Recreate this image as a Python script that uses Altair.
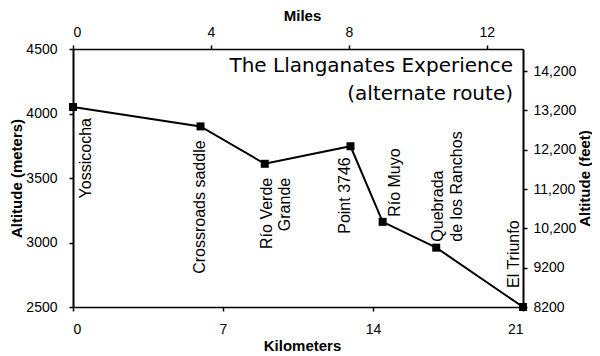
import altair as alt
import pandas as pd

# ---- data ----
km = [0, 5.95, 8.95, 12.95, 14.45, 16.95, 21]
altitude_m = [4050, 3900, 3610, 3746, 3160, 2960, 2500]
places = ["Yossicocha", "Crossroads saddle", "Río Verde\nGrande", "Point 3746",
          "Río Muyo", "Quebrada\nde los Ranchos", "El Triunfo"]
km_ticks = [0, 7, 14, 21]
mile_ticks = [0, 4, 8, 12]
m_ticks = [2500, 3000, 3500, 4000, 4500]
ft_ticks = [8200, 9200, 10200, 11200, 12200, 13200, 14200]
title_lines = ["The Llanganates Experience", "(alternate route)"]

KM_PER_MILE = 1.609344
FT_PER_M = 3.28084

df = pd.DataFrame({"km": km, "m": altitude_m, "place": places})

W, H = 450, 258
FONT = "Liberation Sans"

# label placement (align, dx, dy) in rotated text frame
label_style = {
    "Yossicocha": ("right", -11, 5),
    "Crossroads saddle": ("right", -14, -9),
    "Río Verde\nGrande": ("right", -14, -6),
    "Point 3746": ("right", -11, -14),
    "Río Muyo": ("left", 5, 4),
    "Quebrada\nde los Ranchos": ("left", 6, -6),
    "El Triunfo": ("left", 19, -17),
}

axis_style = dict(grid=False, domainColor="black", tickColor="black", tickSize=4,
                  tickWidth=1.5, labelFont=FONT, labelFontSize=14, labelColor="black",
                  titleFont=FONT, titleFontSize=15, titleFontWeight="bold",
                  titleColor="black")

x_km = alt.X("km:Q", scale=alt.Scale(domain=[0, 21], nice=False, zero=False),
             axis=alt.Axis(orient="bottom", values=km_ticks, title="Kilometers",
                           labelPadding=11, domainWidth=1.5, titleX=229, titleY=43,
                           titleBaseline="alphabetic", titleAlign="center", **axis_style))
y_m = alt.Y("m:Q", scale=alt.Scale(domain=[2500, 4500], nice=False, zero=False),
            axis=alt.Axis(orient="left", values=m_ticks, format="d",
                          title="Altitude (meters)", labelPadding=12, domainWidth=2,
                          titleX=-57, titleY=H / 2, titleAngle=270,
                          titleBaseline="middle", titleAlign="center", **axis_style))

base = alt.Chart(df).encode(x=x_km, y=y_m)
line = base.mark_line(color="black", strokeWidth=2)
pts = base.mark_point(shape="square", filled=True, size=64, color="black", opacity=1)

labels = []
for p in places:
    a, dx, dy = label_style[p]
    labels.append(
        base.transform_filter(alt.datum.place == p)
        .mark_text(angle=270, align=a, baseline="top", dx=dx, dy=dy, font=FONT,
                   fontSize=16, lineHeight=18.5, lineBreak="\n", color="black")
        .encode(text="place:N")
    )

title = alt.Chart(pd.DataFrame({"t": [0]})).mark_text(
    align="right", baseline="top", font="DejaVu Sans", fontSize=20, lineHeight=28,
    color="black"
).encode(x=alt.value(440), y=alt.value(6.7), text=alt.value(title_lines))

main = alt.layer(line, pts, *labels, title)

miles = alt.Chart(df).transform_calculate(mi=f"datum.km / {KM_PER_MILE}").mark_point(
    opacity=0).encode(
    x=alt.X("mi:Q", scale=alt.Scale(domain=[0, 21 / KM_PER_MILE], nice=False, zero=False),
            axis=alt.Axis(orient="top", values=mile_ticks, title="Miles", labelPadding=6,
                          domainWidth=1.5, titleX=229, titleY=-29,
                          titleBaseline="alphabetic", titleAlign="center", **axis_style)))

feet = alt.Chart(df).transform_calculate(ft=f"datum.m * {FT_PER_M}").mark_point(
    opacity=0).encode(
    y=alt.Y("ft:Q", scale=alt.Scale(domain=[8200, 4500 * FT_PER_M], nice=False, zero=False),
            axis=alt.Axis(orient="right", values=ft_ticks,
                          labelExpr="datum.value >= 10000 ? format(datum.value, ',') : format(datum.value, 'd')",
                          title="Altitude (feet)", labelPadding=6, domainWidth=2,
                          titleX=61, titleY=H / 2, titleAngle=270,
                          titleBaseline="middle", titleAlign="center", **axis_style)))

chart = alt.layer(main, miles, feet).resolve_scale(
    x="independent", y="independent"
).properties(
    width=W, height=H,
    padding={"left": 65, "top": 41, "right": 69, "bottom": 45},
    autosize=alt.AutoSizeParams(type="none"),
).configure_view(strokeWidth=0)

chart.save("out.html", embed_options={"renderer": "svg", "actions": False})
